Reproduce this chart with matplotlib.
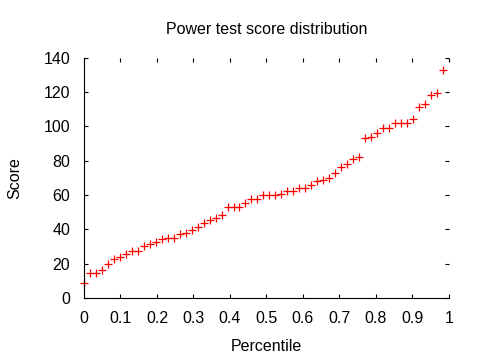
import matplotlib.pyplot as plt

# notas, em ordem crescente
notas = [9, 14.5, 14.5, 16.5, 20, 23, 24, 25.5, 27.5, 27.5,
         30.5, 31.5, 32.5, 34.5, 35, 35, 37.5, 38, 39.5, 41.5,
         43.5, 45.5, 46.5, 48.5, 53, 53, 53, 55.5, 57.5, 57.5,
         60, 60, 60, 60.5, 62.5, 62.5, 64, 64, 65.5, 68,
         68.5, 70, 72.5, 76.5, 78, 81, 82, 93, 93.5, 96,
         99, 99, 102, 102, 102, 104.5, 111, 113, 118, 119.5,
         132.5]
N = len(notas)
percentil = [i / N for i in range(N)]  # posicao de cada nota = rank / total

xticks = [0, 0.1, 0.2, 0.3, 0.4, 0.5, 0.6, 0.7, 0.8, 0.9, 1]
xticklabels = ["0", "0.1", "0.2", "0.3", "0.4", "0.5", "0.6", "0.7", "0.8", "0.9", "1"]
yticks = [0, 20, 40, 60, 80, 100, 120, 140]

plt.rcParams['font.family'] = ['Liberation Sans', 'DejaVu Sans']
plt.rcParams['font.size'] = 11.5

fig = plt.figure(figsize=(4.8, 3.6), dpi=100)
ax = fig.add_axes([0.175, 0.1722, 0.76, 0.668])

ax.plot(percentil, notas, '+', color='#ff0000', markersize=5.5, markeredgewidth=0.9, clip_on=False)

ax.set_xlim(0, 1)
ax.set_ylim(0, 140)
ax.set_xticks(xticks)
ax.set_xticklabels(xticklabels)
ax.set_yticks(yticks)

# estilo gnuplot: so borda esquerda e de baixo, ticks para dentro nos quatro lados
ax.spines['top'].set_visible(False)
ax.spines['right'].set_visible(False)
ax.spines['left'].set_linewidth(0.8)
ax.spines['bottom'].set_linewidth(0.8)
ax.tick_params(direction='in', length=2.6, width=0.8, top=True, right=True)
ax.tick_params(axis='x', pad=9)
ax.tick_params(axis='y', pad=10)

ax.set_title("Power test score distribution", fontsize=11.5, pad=17)
ax.set_xlabel("Percentile", labelpad=10)
ax.set_ylabel("Score", labelpad=15)

fig.savefig("out.png", dpi=100)
plt.close()
